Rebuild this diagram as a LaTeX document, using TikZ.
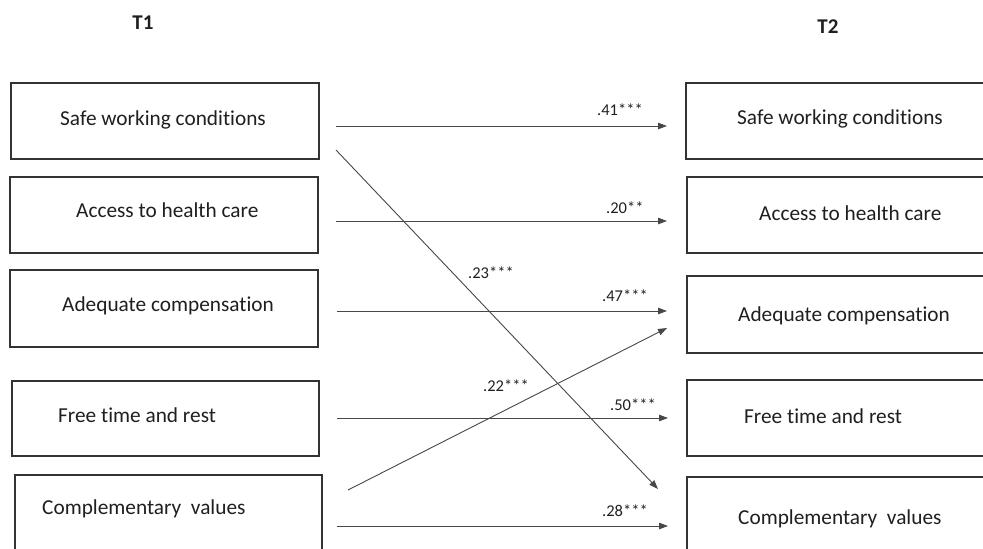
\documentclass[tikz,border=0pt]{standalone}
\usepackage{fontspec}
\setmainfont{Carlito}[Ligatures=NoCommon]
\usetikzlibrary{arrows.meta}
\begin{document}
\begin{tikzpicture}[x=1pt,y=-1pt,
  box/.style={draw=black!80, line width=1.3pt, rectangle, inner sep=0pt},
  lbl/.style={font=\fontsize{21.3}{25}\selectfont, text=black!88, inner sep=0pt, anchor=base west},
  coef/.style={font=\fontsize{16.5}{19}\selectfont, text=black!88, inner sep=0pt, anchor=base west},
  effect/.style={draw=black!72, line width=0.9pt, -{Triangle[length=9pt,width=6.5pt]}},
  ttl/.style={font=\fontsize{21}{24}\selectfont\bfseries, text=black!88, inner sep=0pt, anchor=base}]
\useasboundingbox (0,0) rectangle (983,549);
\clip (0,0) rectangle (983,549);

% wave headings
\node[ttl] (t1) at (143,29) {T1};
\node[ttl] (t2) at (828,33) {T2};

% T1 boxes
\node[box, minimum width=308pt, minimum height=76pt] (L1) at (165,121) {};
\node[box, minimum width=308pt, minimum height=76pt] (L2) at (164,215) {};
\node[box, minimum width=308pt, minimum height=77pt] (L3) at (164,308.5) {};
\node[box, minimum width=307pt, minimum height=75pt] (L4) at (165.5,418.5) {};
\node[box, minimum width=307pt, minimum height=80pt] (L5) at (168.5,515) {};

\node[lbl] (L1t) at (60,125) {Safe working conditions};
\node[lbl] (L2t) at (76,217) {Access to health care};
\node[lbl] (L3t) at (62,311) {Adequate compensation};
\node[lbl] (L4t) at (58,422) {Free time and rest};
\node[lbl] (L5t) at (42,514) {Complementary\ \ values};

% T2 boxes (running off the right and bottom edges)
\node[box, minimum width=314pt, minimum height=76pt] (R1) at (843,121) {};
\node[box, minimum width=313pt, minimum height=76pt] (R2) at (843.5,215) {};
\node[box, minimum width=313pt, minimum height=77pt] (R3) at (843.5,314.5) {};
\node[box, minimum width=313pt, minimum height=76pt] (R4) at (843.5,418) {};
\node[box, minimum width=313pt, minimum height=80pt] (R5) at (843.5,517) {};

\node[lbl] (R1t) at (737,124) {Safe working conditions};
\node[lbl] (R2t) at (759,220) {Access to health care};
\node[lbl] (R3t) at (738,321) {Adequate compensation};
\node[lbl] (R4t) at (744,423) {Free time and rest};
\node[lbl] (R5t) at (738,524) {Complementary\ \ values};

% path end points
\coordinate (s1) at (336,126); \coordinate (e1) at (667,126);
\coordinate (s2) at (336,221); \coordinate (e2) at (667,221);
\coordinate (s3) at (337,311); \coordinate (e3) at (667,311);
\coordinate (s4) at (337,418); \coordinate (e4) at (668,418);
\coordinate (s5) at (337,526); \coordinate (e5) at (668,526);
\coordinate (sx1) at (336,150); \coordinate (ex1) at (658,489);
\coordinate (sx5) at (348,490); \coordinate (ex5) at (667,328);

% stability paths
\draw[effect] (s1) -- (e1);
\draw[effect] (s2) -- (e2);
\draw[effect] (s3) -- (e3);
\draw[effect] (s4) -- (e4);
\draw[effect] (s5) -- (e5);
% cross-lagged paths
\draw[effect] (sx1) -- (ex1);
\draw[effect] (sx5) -- (ex5);

% coefficients
\node[coef] (c1) at (597,115) {.41***};
\node[coef] (c2) at (606,213) {.20**};
\node[coef] (c3) at (602,301) {.47***};
\node[coef] (c4) at (610,410) {.50***};
\node[coef] (c5) at (602,516) {.28***};
\node[coef] (cx1) at (468,278) {.23***};
\node[coef] (cx5) at (483,391) {.22***};
\end{tikzpicture}
\end{document}
